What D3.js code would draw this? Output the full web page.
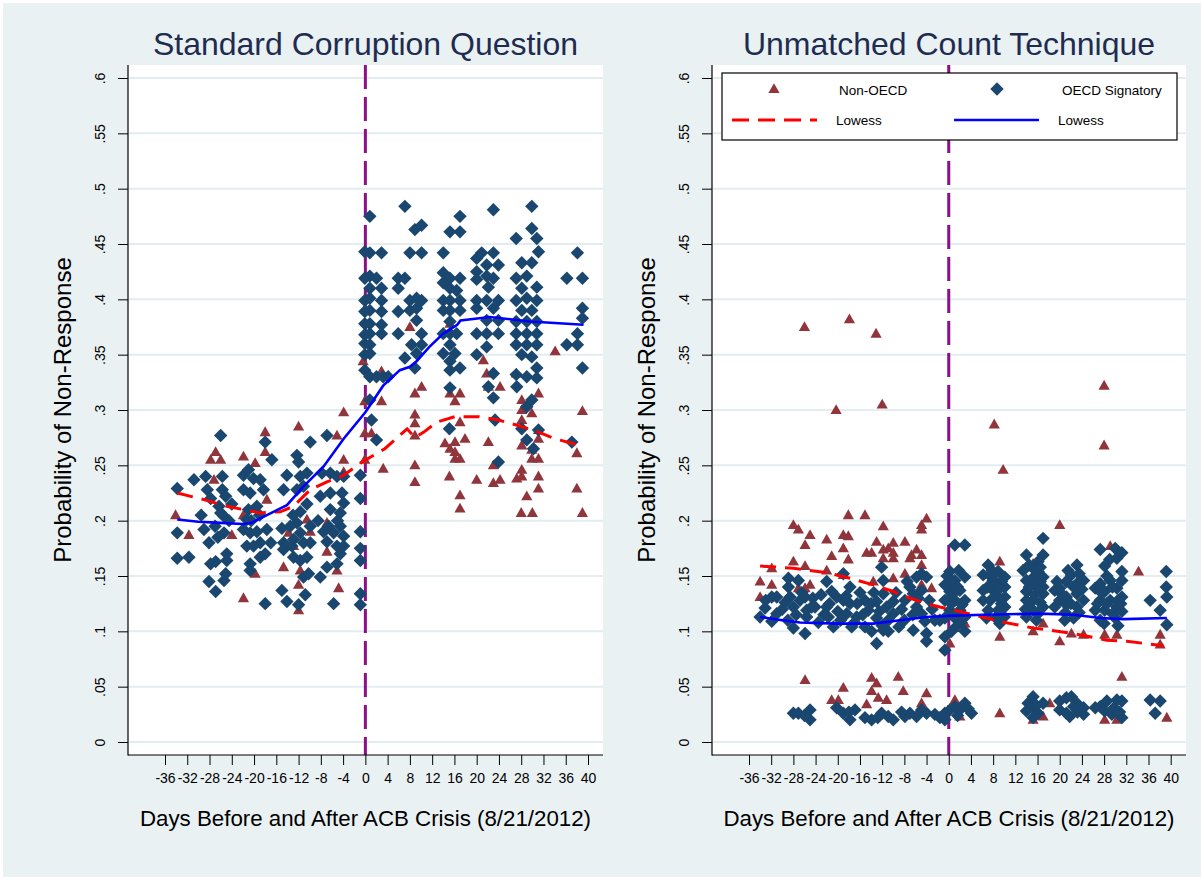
<!DOCTYPE html>
<html><head><meta charset="utf-8">
<script src="https://cdn.jsdelivr.net/npm/d3@7"></script>
<style>
body{margin:0;background:#fff}
svg{display:block}
text{font-family:"Liberation Sans",Arial,Helvetica,sans-serif}
</style>
</head><body>
<svg id="chart" width="1204" height="880"></svg>
<script>
// ---------------- DATA ----------------
const yTicks = [0, .05, .1, .15, .2, .25, .3, .35, .4, .45, .5, .55, .6];
const yTickLabels = ["0", ".05", ".1", ".15", ".2", ".25", ".3", ".35", ".4", ".45", ".5", ".55", ".6"];
const xTicks = [-36, -32, -28, -24, -20, -16, -12, -8, -4, 0, 4, 8, 12, 16, 20, 24, 28, 32, 36, 40];
const xTickLabels = ["-36", "-32", "-28", "-24", "-20", "-16", "-12", "-8", "-4", "0", "4", "8", "12", "16", "20", "24", "28", "32", "36", "40"];
const panelTitles = ["Standard Corruption Question", "Unmatched Count Technique"];
const xTitle = "Days Before and After ACB Crisis (8/21/2012)";
const yTitle = "Probability of Non-Response";
const legendLabels = ["Non-OECD", "OECD Signatory", "Lowess", "Lowess"];
const crisisDay = 0;

// Left panel: standard question  [day, probability]
const leftNonOECD = [
 [-34.1,.205],[-31.7,.187],[-26.9,.262],[-27.8,.255],[-26.0,.255],[-27.2,.237],[-24.0,.187],[-21.9,.258],
 [-19.8,.252],[-18.0,.280],[-18.0,.262],[-21.9,.205],[-17.7,.219],[-19.8,.152],[-21.9,.130],[-12.0,.285],
 [-13.8,.189],[-12.9,.177],[-14.7,.158],[-11.7,.155],[-12.0,.142],[-12.0,.119],[-10.5,.201],[-9.9,.190],
 [-6.9,.198],[-3.9,.298],[-5.1,.277],[-3.9,.255],[-6.9,.172],[-5.1,.155],[-4.8,.139],[-3.9,.244],
 [8.0,.375],[15.2,.378],[-0.4,.344],[2.9,.335],[34.1,.353],[27.1,.333],[21.2,.345],[21.8,.333],
 [10.1,.321],[8.9,.315],[8.9,.296],[8.9,.288],[8.9,.277],[8.9,.250],[8.9,.235],[15.2,.315],[17.0,.315],
 [16.1,.308],[17.0,.289],[17.9,.274],[14.3,.270],[16.1,.271],[15.2,.265],[16.1,.262],[16.1,.256],[17.0,.256],
 [15.1,.240],[17.0,.223],[17.0,.211],[20.0,.237],[22.1,.271],[23.0,.250],[23.0,.234],[24.2,.237],[22.1,.321],
 [24.2,.321],[28.1,.246],[27.2,.238],[28.1,.240],[28.0,.207],[30.0,.207],[29.0,.222],[31.1,.240],[31.1,.229],
 [28.1,.309],[28.1,.300],[28.1,.291],[29.9,.297],[31.1,.315],[31.1,.282],[31.1,.274],[29.9,.264],[31.1,.256],
 [29.9,.256],[28.1,.268],[38.0,.261],[38.0,.229],[39.0,.299],[39.0,.207],[-0.1,.255],[3.2,.247],[-0.1,.308],
 [2.9,.308],[-0.1,.279],[1.1,.279]
];
const leftOECD = [
 [-33.8,.229],[-33.8,.189],[-33.8,.166],[-31.7,.167],[-30.8,.237],[-28.7,.240],[-28.4,.228],[-27.8,.220],
 [-29.0,.192],[-28.1,.180],[-27.8,.161],[-28.1,.145],[-26.9,.136],[-26.9,.163],[-26.0,.277],[-25.7,.240],
 [-25.7,.228],[-26.3,.213],[-26.0,.207],[-25.4,.204],[-25.1,.222],[-25.4,.189],[-24.9,.170],[-25.1,.152],
 [-25.4,.146],[-24.9,.164],[-21.9,.241],[-21.0,.246],[-20.1,.238],[-21.9,.228],[-20.7,.225],[-18.9,.237],
 [-18.3,.228],[-19.5,.213],[-21.0,.210],[-21.3,.201],[-21.9,.192],[-20.7,.189],[-21.3,.177],[-20.1,.177],
 [-18.9,.180],[-20.7,.161],[-18.9,.167],[-17.7,.192],[-18.0,.170],[-18.0,.271],[-18.0,.125],[-20.7,.155],
 [-16.8,.255],[-15.0,.193],[-14.7,.228],[-14.1,.241],[-12.3,.259],[-12.0,.253],[-11.7,.240],[-10.5,.243],
 [-12.3,.228],[-11.1,.231],[-11.7,.208],[-12.3,.198],[-11.7,.189],[-9.9,.195],[-12.9,.183],[-11.1,.180],
 [-9.9,.180],[-12.9,.167],[-11.7,.164],[-10.5,.167],[-11.1,.149],[-10.2,.152],[-15.0,.137],[-14.1,.127],
 [-12.0,.124],[-10.8,.133],[-9.9,.271],[-13.2,.177],[-14.7,.180],[-14.7,.174],[-6.9,.277],[-7.8,.243],
 [-6.3,.243],[-5.1,.240],[-3.9,.240],[-8.1,.222],[-6.3,.225],[-4.2,.225],[-3.9,.216],[-6.3,.210],[-4.5,.207],
 [-6.6,.195],[-4.5,.195],[-5.7,.189],[-3.9,.186],[-6.9,.181],[-5.1,.177],[-3.9,.177],[-6.9,.158],[-5.1,.161],
 [-8.1,.149],[-5.7,.125],[-0.9,.241],[-0.9,.220],[-0.9,.190],[-0.9,.175],[-0.9,.164],[-0.9,.134],[-0.9,.124],
 [-27.0,.195],[-26.5,.185],[-24.5,.200],[-20.5,.200],[-19.0,.205],[-17.0,.180],[-13.5,.195],[-13.0,.205],
 [-10.5,.215],[-8.5,.200],[-7.5,.190],[-5.0,.200],[-4.5,.170],[-29.5,.205],[-24.0,.215],[-19.5,.190],
 [0.8,.475],[-0.1,.443],[0.8,.442],[2.9,.442],[-0.1,.419],[0.8,.421],[2.0,.419],[0.8,.410],[2.9,.410],
 [-0.1,.399],[0.8,.401],[2.9,.399],[-0.1,.389],[0.8,.390],[2.9,.389],[-0.1,.378],[0.8,.378],[2.9,.377],
 [-0.1,.368],[0.8,.369],[2.9,.369],[-0.1,.360],[0.8,.359],[-0.1,.350],[0.8,.351],[-0.1,.336],[0.8,.330],
 [2.0,.330],[3.2,.330],[4.1,.330],
 [7.1,.484],[8.9,.463],[10.1,.467],[8.0,.442],[10.1,.442],[5.9,.419],[7.1,.419],[5.9,.410],[8.0,.399],
 [9.2,.401],[10.1,.399],[8.0,.390],[9.2,.392],[5.9,.389],[9.2,.381],[10.1,.369],[5.9,.369],[8.3,.359],
 [10.1,.359],[9.2,.351],[7.1,.347],[8.9,.338],
 [17.0,.475],[15.2,.461],[17.0,.461],[14.0,.442],[14.0,.424],[15.2,.419],[17.0,.419],[14.0,.415],[15.2,.410],
 [16.4,.408],[14.0,.399],[15.2,.399],[17.0,.399],[14.0,.390],[15.2,.390],[17.0,.390],[15.2,.380],[14.0,.369],
 [15.2,.369],[16.4,.369],[15.2,.359],[14.0,.351],[16.1,.351],[15.2,.344],[15.2,.336],[17.0,.338],
 [23.0,.481],[20.9,.442],[23.0,.442],[20.0,.437],[21.8,.431],[23.9,.431],[20.0,.425],[21.8,.421],[23.0,.419],
 [20.0,.418],[22.1,.411],[20.0,.399],[21.8,.399],[23.9,.399],[20.0,.392],[23.0,.392],[21.8,.381],[23.9,.381],
 [20.0,.369],[21.8,.369],[23.9,.369],[21.8,.357],[20.0,.350],[23.0,.333],
 [29.9,.484],[29.9,.464],[30.8,.455],[27.1,.455],[31.1,.443],[28.1,.433],[29.9,.433],[27.1,.419],[29.0,.421],
 [28.1,.410],[30.8,.411],[27.1,.399],[29.0,.401],[30.8,.399],[28.1,.390],[29.9,.390],[27.1,.380],[29.0,.380],
 [30.8,.380],[27.1,.369],[29.0,.369],[30.8,.369],[27.1,.359],[29.0,.359],[30.8,.359],[28.1,.350],[29.9,.348],
 [30.8,.338],[29.0,.330],[30.8,.329],[27.1,.332],
 [38.1,.442],[36.2,.419],[39.0,.419],[39.0,.392],[39.0,.383],[38.1,.369],[36.2,.359],[38.1,.359],[39.0,.338],
 [15.1,.283],[2.0,.273],[23.9,.253],[23.3,.291],[28.1,.283],[29.0,.273],[30.2,.265],[31.1,.282],[37.1,.271],
 [23.0,.311],[29.0,.303],[29.9,.309],[27.2,.321],[22.1,.321],[15.2,.320],[1.1,.291],[0.8,.309]
];
const leftLowessNonOECD = [
 [-33.8,.225],[-29,.219],[-24.9,.213],[-18.9,.207],[-15.3,.208],[-12.9,.213],[-9.9,.228],[-6.9,.235],
 [-3.9,.241],[-0.9,.252],[1.1,.258],[3.5,.265],[7.5,.283],[8.9,.275],[10.5,.280],[12.8,.289],[16.1,.294],
 [20.3,.294],[23.9,.291],[28.1,.285],[31.1,.280],[34.1,.274],[39.2,.267]
];
const leftLowessOECD = [
 [-33.8,.201],[-30,.199],[-26,.198],[-22,.197],[-20.5,.198],[-17.7,.205],[-14.1,.214],[-11.1,.231],
 [-7.5,.249],[-3.9,.274],[0,.298],[3.2,.322],[6.2,.336],[8,.339],[9.2,.344],[11.5,.357],[14,.369],
 [16.5,.377],[17.1,.381],[22.4,.384],[29.6,.380],[39.2,.377]
];

// Right panel: unmatched count technique  [day, probability]
const rightNonOECD = [
 [-18.1,.205],[-15.1,.205],[-28.0,.196],[-27.1,.192],[-25.0,.187],[-25.9,.178],[-22.0,.183],[-19.0,.187],
 [-18.1,.186],[-19.0,.175],[-11.8,.195],[-13.0,.181],[-10.9,.175],[-10.0,.180],[-7.9,.181],[-4.9,.196],
 [-4.0,.202],[-4.9,.192],[-14.8,.171],[-13.9,.171],[-11.8,.174],[-10.0,.171],[-11.8,.166],[-10.0,.166],
 [-6.7,.169],[-5.8,.174],[-4.9,.169],[-4.9,.160],[-7.0,.166],[-21.1,.168],[-18.1,.165],[-28.0,.163],
 [-25.9,.159],[-31.9,.157],[-34.0,.145],[-31.9,.142],[-34.0,.131],[-25.9,.139],[-25.0,.142],[-27.1,.139],
 [-22.0,.155],[-19.0,.151],[-13.6,.145],[-10.0,.148],[-7.9,.152],[-4.9,.142],[-3.1,.139],
 [-25.9,.056],[-19.0,.049],[-13.9,.058],[-9.1,.059],[-13.9,.046],[-13.0,.053],[-8.2,.046],[-21.1,.038],
 [-19.9,.038],[-14.8,.034],[-12.7,.040],[-11.2,.038],[-4.0,.044],[-4.9,.035],
 [-26.0,.375],[-17.9,.382],[-13.1,.369],[-20.3,.300],[-12.0,.305],[8.2,.287],[9.8,.246],[28.0,.322],[28.0,.268],
 [20.0,.196],[9.2,.163],[29.1,.177],[34.2,.154],[31.2,.059],[9.2,.095],[20.0,.091],[22.1,.098],[24.3,.097],
 [28.1,.097],[30.3,.097],[38.1,.097],[38.1,.088],[15.2,.100],[17.0,.107],[1.1,.103],[2.9,.107],[0.2,.089],
 [30.3,.121],[8.3,.148],[15.2,.161],
 [1.1,.038],[2.0,.023],[9.2,.026],[15.2,.020],[17.0,.023],[18.2,.035],[28.1,.020],[30.3,.020],[39.3,.022]
];
const rightOECD = [
 [-34.0,.113],[-33.1,.121],[-31.9,.131],[-31.9,.109],[-31.0,.131],[-31.0,.116],[-28.9,.148],[-28.9,.140],
 [-27.1,.146],[-28.6,.131],[-28.0,.122],[-28.0,.103],[-26.8,.128],[-25.9,.131],[-25.6,.119],[-25.6,.113],
 [-25.9,.098],[-24.7,.122],[-24.1,.122],[-22.0,.145],[-22.0,.122],[-21.1,.136],[-21.7,.113],[-20.8,.104],
 [-20.2,.131],[-19.0,.152],[-19.0,.128],[-18.4,.116],[-17.8,.140],[-17.8,.125],[-17.5,.104],[-16.6,.113],
 [-15.1,.128],[-14.5,.119],[-15.1,.104],[-13.9,.100],[-13.0,.089],[-13.0,.127],[-13.0,.112],[-12.1,.158],
 [-11.8,.146],[-11.8,.134],[-11.2,.122],[-10.9,.110],[-10.9,.100],[-10.0,.127],[-10.0,.116],[-11.8,.101],
 [-7.9,.128],[-7.0,.140],[-6.4,.134],[-5.8,.149],[-4.9,.152],[-4.0,.149],[-5.8,.122],[-4.9,.116],[-4.3,.109],
 [-4.0,.098],[-4.0,.091],[-6.4,.101],[-4.9,.137],
 [-33.0,.128],[-30.0,.120],[-29.5,.126],[-27.5,.115],[-26.5,.135],[-24.5,.130],[-23.0,.133],[-22.5,.115],
 [-21.5,.125],[-20.0,.118],[-19.5,.110],[-18.5,.132],[-16.5,.125],[-16.0,.135],[-15.5,.115],[-14.0,.125],
 [-13.5,.135],[-12.5,.118],[-12.0,.105],[-9.5,.135],[-8.5,.120],[-8.0,.110],[-7.5,.145],[-6.5,.115],
 [-5.5,.130],[-3.5,.128],[-3.0,.120],[-29.0,.110],[-23.5,.108],[-17.0,.108],[-9.0,.104],[-2.5,.110],
 [-28.0,.026],[-27.1,.026],[-25.0,.029],[-25.0,.020],[-20.2,.031],[-19.0,.026],[-17.8,.020],[-16.9,.029],
 [-15.1,.022],[-13.9,.020],[-12.1,.026],[-10.9,.023],[-10.0,.020],[-7.9,.023],[-7.0,.026],[-5.8,.023],
 [-4.9,.029],[-4.0,.026],[-26.0,.024],[-18.0,.027],[-12.8,.022],[-8.5,.027],[-2.5,.025],
 [1.1,.178],[2.9,.178],[0.2,.154],[1.1,.146],[-0.7,.142],[2.9,.149],[0.2,.136],[2.0,.137],[-0.7,.128],
 [1.1,.128],[2.9,.128],[0.2,.119],[2.0,.119],[-0.7,.112],[1.1,.112],[2.9,.113],[-0.7,.095],[2.9,.100],
 [-0.7,.083],[-1.6,.110],
 [0.5,.145],[1.6,.140],[0.5,.125],[2.4,.124],[1.5,.105],[0.5,.100],[2.2,.108],[-0.3,.150],[1.8,.155],[0.6,.133],
 [-0.7,.026],[0.2,.029],[1.1,.032],[2.0,.029],[2.9,.035],[4.1,.026],[-1.6,.022],[-0.7,.020],[1.6,.024],[3.5,.030],
 [7.1,.160],[6.2,.151],[8.0,.146],[8.9,.154],[10.1,.149],[6.2,.137],[8.0,.137],[10.1,.140],[6.2,.128],
 [8.9,.131],[10.1,.131],[7.1,.119],[8.9,.119],[10.1,.122],[8.0,.143],[9.2,.107],
 [7.5,.150],[9.5,.145],[7.0,.140],[9.0,.138],[7.5,.128],[9.5,.125],[6.8,.112],[8.5,.112],[10.0,.113],[7.8,.155],
 [17.0,.184],[14.0,.169],[17.0,.169],[16.1,.163],[15.2,.157],[13.4,.155],[16.1,.154],[14.0,.146],[17.0,.149],
 [15.2,.143],[16.1,.139],[14.0,.136],[17.0,.134],[15.2,.128],[14.0,.128],[17.0,.122],[15.2,.119],[14.0,.113],
 [16.1,.116],
 [14.5,.160],[16.5,.158],[15.5,.150],[14.5,.140],[16.5,.145],[15.5,.133],[16.5,.126],[14.6,.122],[15.8,.110],
 [13.8,.120],[17.0,.140],
 [15.2,.041],[14.3,.035],[15.2,.031],[14.0,.028],[16.1,.026],[15.2,.022],[17.0,.035],[15.8,.033],
 [23.1,.160],[22.1,.151],[21.2,.145],[20.0,.139],[23.1,.143],[24.3,.146],[19.1,.137],[21.2,.131],[23.1,.134],
 [20.0,.128],[24.3,.128],[19.1,.122],[21.2,.124],[23.1,.122],[20.9,.110],
 [21.5,.155],[22.5,.140],[20.5,.133],[22.0,.125],[23.5,.117],[21.0,.117],[22.5,.112],[24.0,.138],[19.5,.145],
 [23.5,.152],
 [20.0,.037],[21.2,.040],[22.1,.041],[23.1,.035],[24.3,.031],[20.0,.029],[21.2,.026],[24.3,.025],[22.5,.032],
 [21.8,.023],[23.2,.027],
 [27.3,.174],[30.0,.175],[31.2,.171],[30.3,.166],[28.1,.159],[31.2,.154],[27.3,.143],[29.1,.146],[31.2,.146],
 [26.4,.139],[28.1,.136],[30.3,.139],[31.2,.131],[27.3,.128],[29.1,.128],[30.3,.122],[26.4,.119],[28.1,.119],
 [31.2,.118],[30.0,.112],[27.3,.110],
 [28.5,.150],[29.5,.140],[27.5,.135],[30.5,.128],[28.5,.125],[29.5,.116],[26.8,.125],[31.0,.125],[29.0,.165],
 [28.0,.107],[30.5,.105],
 [27.3,.032],[28.5,.037],[30.3,.038],[31.2,.037],[28.1,.028],[26.4,.031],[29.4,.025],[31.2,.022],[29.8,.031],
 [30.8,.027],
 [36.3,.128],[39.2,.154],[39.2,.140],[39.3,.131],[38.1,.119],[39.3,.106],
 [36.3,.038],[38.1,.037],[37.2,.026]
];
const rightLowessNonOECD = [
 [-34,.159],[-28,.157],[-22,.153],[-17.8,.148],[-13.6,.142],[-10,.136],[-7.6,.131],[-4,.125],[-1.6,.122],
 [2,.118],[9.2,.109],[15.2,.103],[22.5,.098],[28.5,.092],[32.1,.091],[38.7,.087]
];
const rightLowessOECD = [
 [-34,.113],[-30,.110],[-26.8,.108],[-20.2,.107],[-13.6,.107],[-8.8,.110],[-4,.113],[0,.114],[6.2,.115],
 [16.5,.116],[22.5,.115],[27.3,.112],[31.5,.111],[39.3,.112]
];

// ---------------- LAYOUT / STYLE ----------------
const W = 1204, H = 880;
const bg = "#EAF1F3", grid = "#E3EDF0";
const navy = "#1A476F", maroon = "#90353B";
const plotTop = 65, plotBottom = 755;
const panels = [
  {title: panelTitles[0], left: 128, right: 603, xr: [165, 588], nonOECD: leftNonOECD, oecd: leftOECD,
   lowNon: leftLowessNonOECD, lowOECD: leftLowessOECD, legend: false},
  {title: panelTitles[1], left: 712, right: 1186, xr: [749, 1170.7], nonOECD: rightNonOECD, oecd: rightOECD,
   lowNon: rightLowessNonOECD, lowOECD: rightLowessOECD, legend: true}
];

const svg = d3.select("#chart");
svg.append("rect").attr("width", W).attr("height", H).attr("fill", "#ffffff");
svg.append("rect").attr("x", 3).attr("y", 3).attr("width", W - 6).attr("height", H - 6).attr("fill", bg);

const y = d3.scaleLinear().domain([0, .6]).range([742, 78]);
const diamond = "M0,-6.7L6.7,0L0,6.7L-6.7,0Z";
const triangle = "M0,-5.8L5.6,4L-5.6,4Z";
const font = '"Liberation Sans",Arial,sans-serif';

panels.forEach(p => {
  const x = d3.scaleLinear().domain([xTicks[0], xTicks[xTicks.length - 1]]).range(p.xr);
  const g = svg.append("g");
  const cx = (p.left + p.right) / 2;

  g.append("rect").attr("x", p.left).attr("y", plotTop).attr("width", p.right - p.left)
    .attr("height", plotBottom - plotTop).attr("fill", "#ffffff");

  g.selectAll(".grid").data(yTicks).join("line")
    .attr("x1", p.left + 1).attr("x2", p.right).attr("y1", d => y(d)).attr("y2", d => y(d))
    .attr("stroke", grid).attr("stroke-width", 2);

  g.append("line").attr("x1", x(crisisDay)).attr("x2", x(crisisDay)).attr("y1", plotTop).attr("y2", plotBottom)
    .attr("stroke", "#8B0F8B").attr("stroke-width", 3).attr("stroke-dasharray", "24,8");

  g.selectAll(".tri").data(p.nonOECD).join("path")
    .attr("d", triangle).attr("fill", maroon)
    .attr("transform", d => `translate(${x(d[0])},${y(d[1])})`);
  g.selectAll(".dia").data(p.oecd).join("path")
    .attr("d", diamond).attr("fill", navy)
    .attr("transform", d => `translate(${x(d[0])},${y(d[1])})`);

  const line = d3.line().x(d => x(d[0])).y(d => y(d[1]));
  g.append("path").datum(p.lowNon).attr("d", line).attr("fill", "none")
    .attr("stroke", "#FF0000").attr("stroke-width", 3).attr("stroke-dasharray", "16,9");
  g.append("path").datum(p.lowOECD).attr("d", line).attr("fill", "none")
    .attr("stroke", "#0000FF").attr("stroke-width", 2.6);

  const yAx = g.append("g").attr("transform", `translate(${p.left},0)`)
    .call(d3.axisLeft(y).tickValues(yTicks).tickSize(10).tickFormat((d, i) => yTickLabels[i]));
  yAx.select(".domain").remove();
  yAx.selectAll("line").attr("stroke", "#000");
  yAx.selectAll("text").attr("x", null).attr("dy", null).attr("y", 0)
    .attr("transform", "translate(-23,0) rotate(-90)").attr("text-anchor", "middle")
    .attr("font-size", 14).attr("fill", "#000").style("font-family", font);
  g.append("line").attr("x1", p.left).attr("x2", p.left).attr("y1", plotTop).attr("y2", plotBottom + 0.5)
    .attr("stroke", "#000").attr("stroke-width", 1.2);

  const xAx = g.append("g").attr("transform", `translate(0,${plotBottom})`)
    .call(d3.axisBottom(x).tickValues(xTicks).tickSize(10).tickPadding(8)
      .tickFormat((d, i) => xTickLabels[i]));
  xAx.select(".domain").remove();
  xAx.selectAll("line").attr("stroke", "#000");
  xAx.selectAll("text").attr("font-size", 14).attr("fill", "#000").style("font-family", font);
  g.append("line").attr("x1", p.left).attr("x2", p.right).attr("y1", plotBottom).attr("y2", plotBottom)
    .attr("stroke", "#000").attr("stroke-width", 1.2);

  g.append("text").attr("x", cx).attr("y", 55).attr("text-anchor", "middle")
    .attr("font-size", 32).attr("fill", "#1E2C50").text(p.title);
  g.append("text").attr("x", cx).attr("y", 826).attr("text-anchor", "middle")
    .attr("font-size", 22.3).attr("fill", "#000").text(xTitle);
  g.append("text").attr("transform", `translate(${p.left - 57},${(plotTop + plotBottom) / 2}) rotate(-90)`)
    .attr("text-anchor", "middle").attr("font-size", 24).attr("fill", "#000").text(yTitle);

  if (p.legend) {
    const lg = g.append("g");
    lg.append("rect").attr("x", 722).attr("y", 73).attr("width", 455).attr("height", 67)
      .attr("fill", "#fff").attr("stroke", "#000").attr("stroke-width", 1.2);
    lg.append("path").attr("d", triangle).attr("fill", maroon).attr("transform", "translate(774,89)");
    lg.append("path").attr("d", diamond).attr("fill", navy).attr("transform", "translate(997,89)");
    lg.append("line").attr("x1", 732).attr("x2", 817).attr("y1", 120).attr("y2", 120)
      .attr("stroke", "#FF0000").attr("stroke-width", 3).attr("stroke-dasharray", "17,9");
    lg.append("line").attr("x1", 954).attr("x2", 1039).attr("y1", 120).attr("y2", 120)
      .attr("stroke", "#0000FF").attr("stroke-width", 2.6);
    const lt = [[839, 95, legendLabels[0]], [1062, 95, legendLabels[1]], [836, 125, legendLabels[2]], [1058, 125, legendLabels[3]]];
    lg.selectAll(".lt").data(lt).join("text").attr("x", d => d[0]).attr("y", d => d[1])
      .attr("font-size", 13.5).attr("fill", "#000").text(d => d[2]);
  }
});
</script>
</body></html>
